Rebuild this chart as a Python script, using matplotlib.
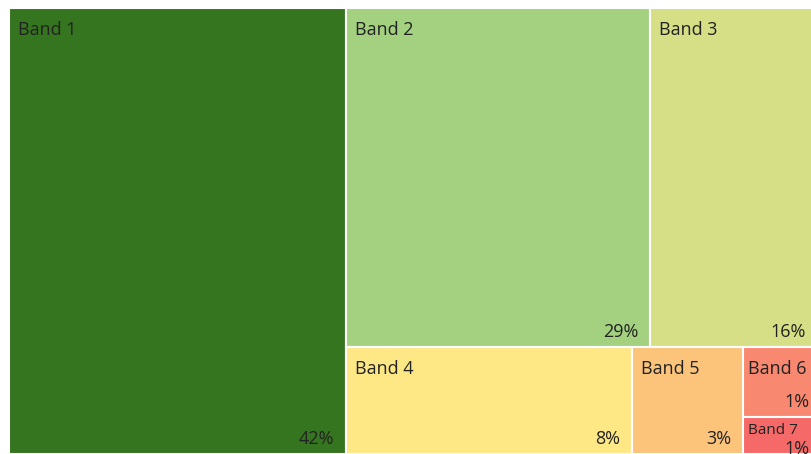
import matplotlib
matplotlib.use("Agg")
import matplotlib.pyplot as plt
from matplotlib.patches import Rectangle

# tile data (share of total, %)
bands = ["Band 1", "Band 2", "Band 3", "Band 4", "Band 5", "Band 6", "Band 7"]
shares = [41.6, 28.6, 15.8, 8.49, 3.3, 1.45, 0.76]
colors = ["#36751f", "#a3d180", "#d6df86", "#fee886", "#fbc47a", "#f98870", "#f56969"]

plt.rcParams['font.family'] = ['Open Sans', 'DejaVu Sans']

fig = plt.figure(figsize=(8.11, 4.54), dpi=100)
# treemap area runs a little past the right edge of the picture
ax = fig.add_axes([9 / 811, 0, 809 / 811, 446 / 454])
ax.set_xlim(0, 1)
ax.set_ylim(1, 0)
ax.axis('off')

total = sum(shares)
v = [s / total for s in shares]

# fixed layout: band 1 column, then two rows on the right
rects = []
w1 = v[0]
rects.append((0, 0, w1, 1))
rest = 1 - v[0]
rw = 1 - w1
top = v[1] + v[2]
bot = rest - top
th = top / rest
x = w1
for i in (1, 2):
    w = rw * v[i] / top
    rects.append((x, 0, w, th))
    x += w
bh = 1 - th
x = w1
for i in (3, 4):
    w = rw * v[i] / bot
    rects.append((x, th, w, bh))
    x += w
cw = rw * (v[5] + v[6]) / bot
h6 = bh * v[5] / (v[5] + v[6])
rects.append((x, th, cw, h6))
rects.append((x, th + h6, cw, bh - h6))

for i, (rx, ry, rw_, rh) in enumerate(rects):
    ax.add_patch(Rectangle((rx, ry), rw_, rh, facecolor=colors[i],
                           edgecolor='white', linewidth=1.5))
    pct = "%d%%" % round(shares[i])
    short = rh * 446 < 45
    narrow = rw_ * 809 < 90
    padx = 3.5 if narrow else 6.5
    if short:
        ax.annotate(bands[i], xy=(rx, ry), xytext=(padx, -4),
                    textcoords='offset points', ha='left', va='top',
                    fontsize=11, color='#222222')
        ax.annotate(pct, xy=(rx + rw_, ry + rh),
                    xytext=(-6, 10), textcoords='offset points',
                    ha='right', va='top', fontsize=13, color='#222222')
        continue
    ax.annotate(bands[i], xy=(rx, ry), xytext=(padx, -9.5),
                textcoords='offset points', ha='left', va='top',
                fontsize=13, color='#222222')
    ax.annotate(pct, xy=(rx + rw_, ry + rh),
                xytext=(-6 if narrow else -8.5, 4.5),
                textcoords='offset points', ha='right', va='bottom',
                fontsize=13, color='#222222')

fig.savefig("out.png", dpi=100)
